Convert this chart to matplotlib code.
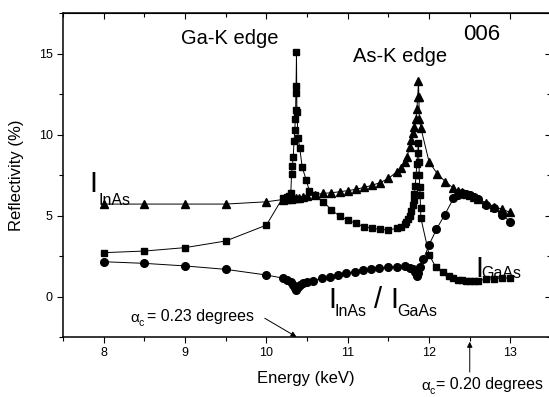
import matplotlib
matplotlib.use("Agg")
import matplotlib.pyplot as plt
from matplotlib.ticker import MultipleLocator

plt.rcParams['font.family'] = ['Liberation Sans', 'DejaVu Sans']

# I_InAs (triangles)
e_inas = [8.0, 8.5, 9.0, 9.5, 10.0, 10.2, 10.25, 10.3, 10.33, 10.36, 10.4, 10.45, 10.5,
          10.6, 10.7, 10.8, 10.9, 11.0, 11.1, 11.2, 11.3, 11.4, 11.5, 11.6, 11.65, 11.7,
          11.73, 11.76, 11.78, 11.8, 11.82, 11.84, 11.85, 11.86, 11.87, 11.875, 11.88, 11.9,
          12.0, 12.1, 12.2, 12.3, 12.35, 12.4, 12.45, 12.5, 12.55, 12.6, 12.7, 12.8, 12.9, 13.0]
r_inas = [5.72, 5.72, 5.72, 5.72, 5.86, 6.0, 6.02, 6.05, 6.08, 6.1, 6.12, 6.18, 6.22,
          6.3, 6.38, 6.42, 6.48, 6.55, 6.63, 6.75, 6.88, 7.05, 7.3, 7.7, 7.95, 8.3,
          8.65, 9.25, 9.7, 10.1, 10.5, 11.0, 11.6, 12.3, 13.3, 12.3, 11.0, 10.4,
          8.33, 7.6, 7.1, 6.7, 6.55, 6.45, 6.35, 6.25, 6.15, 6.05, 5.8, 5.55, 5.4, 5.2]

# I_GaAs (squares)
e_gaas = [8.0, 8.5, 9.0, 9.5, 10.0, 10.2, 10.25, 10.28, 10.3, 10.31, 10.32, 10.33, 10.34,
          10.35, 10.355, 10.36, 10.362, 10.365, 10.37, 10.375, 10.39, 10.41, 10.44, 10.49,
          10.53, 10.6, 10.7, 10.8, 10.9, 11.0, 11.1, 11.2, 11.3, 11.4, 11.5, 11.6, 11.65,
          11.7, 11.72, 11.74, 11.76, 11.78, 11.8, 11.81, 11.82, 11.83, 11.84, 11.85, 11.86,
          11.87, 11.875, 11.88, 11.885, 11.89, 11.895, 11.9, 12.0, 12.08, 12.17, 12.25,
          12.3, 12.35, 12.4, 12.45, 12.5, 12.55, 12.6, 12.7, 12.8, 12.9, 13.0]
r_gaas = [2.72, 2.82, 3.03, 3.44, 4.42, 6.1, 6.15, 6.2, 6.4, 7.6, 8.1, 8.6, 9.6,
          10.3, 11.0, 11.5, 12.55, 13.0, 15.1, 11.4, 9.8, 9.2, 8.0, 7.2,
          6.5, 6.27, 5.87, 5.35, 4.98, 4.73, 4.53, 4.32, 4.22, 4.16, 4.12, 4.22, 4.33,
          4.5, 4.62, 4.78, 5.0, 5.3, 5.65, 5.95, 6.35, 6.85, 7.5, 8.2, 8.9,
          9.5, 8.33, 7.5, 6.8, 6.28, 5.46, 4.84, 2.6, 1.85, 1.5, 1.3,
          1.15, 1.06, 1.02, 1.0, 0.99, 0.99, 1.0, 1.07, 1.12, 1.15, 1.17]

# I_InAs / I_GaAs (circles)
e_ratio = [8.0, 8.5, 9.0, 9.5, 10.0, 10.2, 10.25, 10.3, 10.33, 10.35, 10.37, 10.39, 10.41,
           10.45, 10.5, 10.57, 10.68, 10.78, 10.88, 10.98, 11.09, 11.19, 11.29, 11.39, 11.5,
           11.6, 11.7, 11.76, 11.8, 11.83, 11.85, 11.87, 11.89, 11.93, 12.0, 12.09, 12.19,
           12.3, 12.35, 12.4, 12.45, 12.5, 12.55, 12.6, 12.7, 12.8, 12.9, 13.0]
r_ratio = [2.16, 2.06, 1.9, 1.69, 1.34, 1.15, 1.05, 0.92, 0.72, 0.52, 0.42, 0.62, 0.75,
           0.84, 0.9, 0.99, 1.13, 1.23, 1.34, 1.44, 1.54, 1.65, 1.71, 1.75, 1.81,
           1.85, 1.87, 1.8, 1.7, 1.5, 1.3, 1.45, 1.85, 2.3, 3.2, 4.16, 5.04,
           6.07, 6.3, 6.38, 6.33, 6.25, 6.15, 6.05, 5.66, 5.46, 5.04, 4.63]

W, H = 549, 397


def fpos(px, py):
    # pixel position -> figure fraction
    return px / W, 1 - py / H


fig = plt.figure(figsize=(W / 100, H / 100), dpi=100)
ax = fig.add_axes([0.1148, 0.1506, 0.889, 0.816])

ax.plot(e_inas, r_inas, '-^', color='black', lw=0.7, ms=6, mec='black', mfc='black')
ax.plot(e_gaas, r_gaas, '-s', color='black', lw=0.7, ms=5, mec='black', mfc='black')
ax.plot(e_ratio, r_ratio, '-o', color='black', lw=0.7, ms=5.5, mec='black', mfc='black')

ax.set_xlim(7.5, 13.5)
ax.set_ylim(-2.5, 17.5)
ax.xaxis.set_major_locator(MultipleLocator(1))
ax.xaxis.set_minor_locator(MultipleLocator(0.5))
ax.yaxis.set_major_locator(MultipleLocator(5))
ax.yaxis.set_minor_locator(MultipleLocator(2.5))
ax.tick_params(which='both', direction='out', width=0.8, labelsize=9, pad=3)
ax.tick_params(which='major', length=4.3)
ax.tick_params(which='minor', length=2.9)
for s in ax.spines.values():
    s.set_linewidth(1.1)

top = ax.secondary_xaxis('top')
top.xaxis.set_major_locator(MultipleLocator(1))
top.xaxis.set_minor_locator(MultipleLocator(0.5))
top.tick_params(which='both', direction='in', width=0.8, labeltop=False)
top.tick_params(which='major', length=4.3)
top.tick_params(which='minor', length=2.9)
right = ax.secondary_yaxis('right')
right.yaxis.set_major_locator(MultipleLocator(5))
right.yaxis.set_minor_locator(MultipleLocator(2.5))
right.tick_params(which='both', direction='in', width=0.8, labelright=False)
right.tick_params(which='major', length=4.3)
right.tick_params(which='minor', length=2.9)

fig.text(*fpos(17, 175), 'Reflectivity (%)', rotation=90, ha='center', va='center', fontsize=12)
fig.text(*fpos(306, 378), 'Energy (keV)', ha='center', va='center', fontsize=12)

fig.text(*fpos(230, 39), 'Ga-K edge', ha='center', va='center', fontsize=14.5)
fig.text(*fpos(400, 57), 'As-K edge', ha='center', va='center', fontsize=14.5)
fig.text(*fpos(482, 34), '006', ha='center', va='center', fontsize=16)

# curve labels
big = 21
fig.text(*fpos(89.5, 192), 'I', ha='left', va='baseline', fontsize=big)
fig.text(*fpos(98, 205), 'InAs', ha='left', va='baseline', fontsize=11.5)
fig.text(*fpos(475, 277), 'I', ha='left', va='baseline', fontsize=big)
fig.text(*fpos(481.5, 278), 'GaAs', ha='left', va='baseline', fontsize=11.5)
fig.text(*fpos(328.5, 308), 'I', ha='left', va='baseline', fontsize=big)
fig.text(*fpos(335, 316), 'InAs', ha='left', va='baseline', fontsize=11.5)
fig.text(*fpos(373.5, 308), '/', ha='left', va='baseline', fontsize=big)
fig.text(*fpos(390.5, 308), 'I', ha='left', va='baseline', fontsize=big)
fig.text(*fpos(397, 316), 'GaAs', ha='left', va='baseline', fontsize=11.5)

# critical angle notes
fig.text(*fpos(130, 321.5), '\u03b1', ha='left', va='baseline', fontsize=11)
fig.text(*fpos(138.5, 326.5), 'c', ha='left', va='baseline', fontsize=7.5)
fig.text(*fpos(147, 321.5), '= 0.23 degrees', ha='left', va='baseline', fontsize=11.5)
ax.annotate('', xy=(10.37, -2.48), xytext=(9.98, -1.33),
            arrowprops=dict(arrowstyle='-|>', lw=0.7, color='black', mutation_scale=8,
                            shrinkA=0, shrinkB=0))

fig.text(*fpos(421.5, 389.5), '\u03b1', ha='left', va='baseline', fontsize=11)
fig.text(*fpos(429.5, 394), 'c', ha='left', va='baseline', fontsize=7.5)
fig.text(*fpos(436, 389.5), '= 0.20 degrees', ha='left', va='baseline', fontsize=11.5)
ax.annotate('', xy=(12.5, -2.78), xytext=(12.5, -4.65), annotation_clip=False,
            arrowprops=dict(arrowstyle='-|>', lw=0.7, color='black', mutation_scale=8,
                            shrinkA=0, shrinkB=0))

fig.savefig('out.png', dpi=100)
